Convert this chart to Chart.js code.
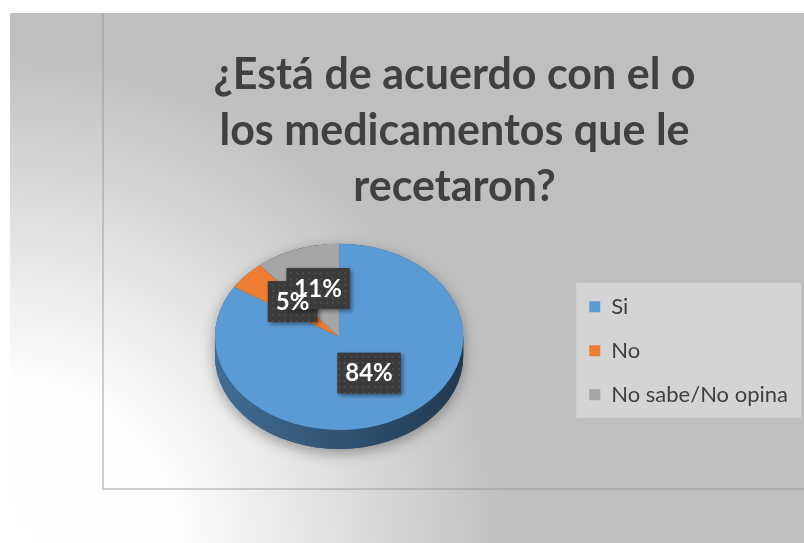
<!DOCTYPE html>
<html>
<head>
<meta charset="utf-8">
<script src="https://cdn.jsdelivr.net/npm/chart.js@4.4.1/dist/chart.umd.min.js"></script>
<style>
  html, body { margin: 0; padding: 0; background: #fff; }
  #contenedor { width: 804px; height: 543px; }
</style>
</head>
<body>
<div id="contenedor"><canvas id="grafico"></canvas></div>
<script>
/* ===========================
   Encuesta - acuerdo con los medicamentos recetados (torta 3D)
   =========================== */

const TITULO = ['¿Está de acuerdo con el o', 'los medicamentos que le', 'recetaron?'];
const RESPUESTAS = ['Si', 'No', 'No sabe/No opina'];
const PORCENTAJES = [84, 5, 11];
const COLORES = ['#5b9bd5', '#ed7d31', '#a5a5a5'];

const ACHATADO = 0.75;   // alto/ancho de la cara superior
const PROFUNDIDAD = 19;  // canto del disco, en px
const SUBIDA = 14;       // el disco va un poco más arriba que el centro de la leyenda
const ALZA_ETIQUETA = 5; // las etiquetas quedan algo por encima del punto medio

function oscurecer(hex, f) {
  const n = parseInt(hex.slice(1), 16);
  const r = Math.round(((n >> 16) & 255) * f);
  const g = Math.round(((n >> 8) & 255) * f);
  const b = Math.round((n & 255) * f);
  return `rgb(${r}, ${g}, ${b})`;
}

// --------- Fondo, marco y caja de la leyenda ---------

const fondo = {
  id: 'fondo',
  beforeDraw(chart) {
    const { ctx, width, height } = chart;
    ctx.save();
    ctx.fillStyle = '#ffffff';
    ctx.fillRect(0, 0, width, height);

    const g = ctx.createRadialGradient(0, height + 15, 0, 0, height + 15, 510);
    g.addColorStop(0, '#ffffff');
    g.addColorStop(0.36, '#fdfdfd');
    g.addColorStop(1, '#bfbfbf');
    ctx.fillStyle = g;
    ctx.fillRect(10, 13, width - 10, height - 13);

    ctx.strokeStyle = 'rgba(150, 150, 150, 0.45)';
    ctx.lineWidth = 2;
    ctx.beginPath();
    ctx.moveTo(103, 13);
    ctx.lineTo(103, 489);
    ctx.lineTo(width, 489);
    ctx.stroke();

    const cajas = chart.legend.legendHitBoxes;
    if (cajas && cajas.length) {
      const ultima = cajas[cajas.length - 1];
      const izq = Math.min(...cajas.map(c => c.left)) - 13;
      const der = Math.max(...cajas.map(c => c.left + c.width)) + 13;
      const arr = cajas[0].top - 13;
      const abj = ultima.top + ultima.height + 12;
      ctx.fillStyle = '#d4d4d4';
      ctx.fillRect(izq, arr, der - izq, abj - arr);
    }
    ctx.restore();
  }
};

// --------- Disco en perspectiva ---------

const perspectiva = {
  id: 'perspectiva',
  beforeDatasetsDraw(chart) {
    const { ctx } = chart;
    const arcos = chart.getDatasetMeta(0).data;
    if (!arcos.length) return;
    const { x: cx, y: cy, outerRadius: r } = arcos[0];
    const d = PROFUNDIDAD / ACHATADO;

    ctx.save();
    ctx.translate(cx, cy - SUBIDA);
    ctx.scale(1, ACHATADO);

    // sombra suave debajo del disco
    ctx.save();
    ctx.shadowColor = 'rgba(0, 0, 0, 0.35)';
    ctx.shadowBlur = 14;
    ctx.shadowOffsetY = 4;
    ctx.fillStyle = oscurecer(COLORES[0], 0.5);
    ctx.beginPath();
    ctx.arc(0, 0, r, Math.PI, 0);
    ctx.lineTo(r, d);
    ctx.arc(0, d, r, 0, Math.PI);
    ctx.closePath();
    ctx.fill();
    ctx.restore();

    // canto visible (mitad delantera)
    arcos.forEach((arco, i) => {
      for (let k = -1; k <= 1; k++) {
        const lo = Math.max(arco.startAngle, 2 * Math.PI * k);
        const hi = Math.min(arco.endAngle, 2 * Math.PI * k + Math.PI);
        if (hi <= lo) continue;
        const grad = ctx.createLinearGradient(-r, 0, r, 0);
        grad.addColorStop(0, oscurecer(COLORES[i], 0.7));
        grad.addColorStop(1, oscurecer(COLORES[i], 0.37));
        ctx.fillStyle = grad;
        ctx.beginPath();
        ctx.arc(0, 0, r, lo, hi);
        ctx.arc(0, d, r, hi, lo, true);
        ctx.closePath();
        ctx.fill();
      }
    });

    // la cara superior la dibuja Chart.js con esta misma transformación
    ctx.translate(-cx, -cy);
  },
  afterDatasetsDraw(chart) {
    chart.ctx.restore();
  }
};

// --------- Etiquetas de porcentaje ---------

function trama(ctx) {
  const c = document.createElement('canvas');
  c.width = 6;
  c.height = 6;
  const g = c.getContext('2d');
  g.fillStyle = '#3b3b3b';
  g.fillRect(0, 0, 6, 6);
  g.fillStyle = '#4a4a4a';
  g.fillRect(2, 2, 2, 2);
  return ctx.createPattern(c, 'repeat');
}

const etiquetas = {
  id: 'etiquetas',
  afterDatasetsDraw(chart) {
    const { ctx } = chart;
    const arcos = chart.getDatasetMeta(0).data;
    ctx.save();
    ctx.font = 'bold 24px Lato';
    const patron = trama(ctx);

    const pos = arcos.map((arco, i) => {
      const medio = (arco.startAngle + arco.endAngle) / 2;
      const rr = arco.outerRadius * 0.5;
      const texto = PORCENTAJES[i] + '%';
      return {
        x: arco.x + rr * Math.cos(medio),
        y: arco.y - SUBIDA - ALZA_ETIQUETA + rr * Math.sin(medio) * ACHATADO,
        texto,
        ancho: ctx.measureText(texto).width + 16,
      };
    });

    pos.forEach(p => {
      ctx.save();
      ctx.shadowColor = 'rgba(0, 0, 0, 0.45)';
      ctx.shadowBlur = 4;
      ctx.shadowOffsetX = 2;
      ctx.shadowOffsetY = 2;
      ctx.fillStyle = patron;
      ctx.fillRect(p.x - p.ancho / 2, p.y - 20, p.ancho, 41);
      ctx.restore();
    });

    ctx.fillStyle = '#ffffff';
    ctx.textAlign = 'center';
    ctx.textBaseline = 'middle';
    pos.forEach(p => ctx.fillText(p.texto, p.x, p.y + 1));
    ctx.restore();
  }
};

// --------- Gráfico ---------

new Chart(document.getElementById('grafico'), {
  type: 'pie',
  data: {
    labels: RESPUESTAS,
    datasets: [{
      data: PORCENTAJES,
      backgroundColor: COLORES,
      borderWidth: 0,
    }],
  },
  options: {
    responsive: true,
    maintainAspectRatio: false,
    animation: false,
    events: [],
    layout: { padding: { left: 111, right: 6, top: 0, bottom: 68 } },
    plugins: {
      title: {
        display: true,
        text: TITULO,
        color: '#404040',
        font: { family: 'Lato', weight: 'bold', size: 43, lineHeight: 1.3 },
        padding: { top: 47, bottom: 12 },
      },
      legend: {
        position: 'right',
        fullSize: false,
        labels: {
          boxWidth: 11,
          boxHeight: 11,
          padding: 22,
          color: '#404040',
          font: { family: 'Lato', size: 22 },
        },
      },
      tooltip: { enabled: false },
    },
  },
  plugins: [fondo, perspectiva, etiquetas],
});
</script>
</body>
</html>
